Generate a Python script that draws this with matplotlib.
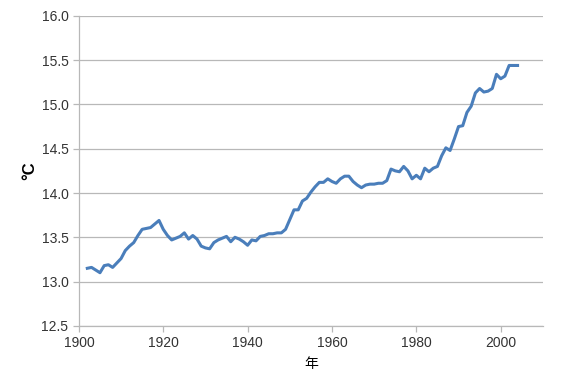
import numpy as np
import matplotlib
matplotlib.use("Agg")
import matplotlib.pyplot as plt

plt.rcParams['font.family'] = ['Liberation Sans', 'Noto Sans CJK JP', 'DejaVu Sans']

# Data: annual mean temperature (deg C).
years = list(range(1902, 2005))
temps = [
    13.15, 13.16, 13.13, 13.10, 13.18, 13.19, 13.16, 13.21, 13.26, 13.35,  # 1902-1911
    13.40, 13.44, 13.52, 13.59, 13.60, 13.61, 13.65, 13.69, 13.59, 13.52,  # 1912-1921
    13.47, 13.49, 13.51, 13.55, 13.48, 13.52, 13.48, 13.40, 13.38, 13.37,  # 1922-1931
    13.44, 13.47, 13.49, 13.51, 13.45, 13.50, 13.48, 13.45, 13.41, 13.47,  # 1932-1941
    13.46, 13.51, 13.52, 13.54, 13.54, 13.55, 13.55, 13.59, 13.70, 13.81,  # 1942-1951
    13.81, 13.91, 13.94, 14.01, 14.07, 14.12, 14.12, 14.16, 14.13, 14.11,  # 1952-1961
    14.16, 14.19, 14.19, 14.13, 14.09, 14.06, 14.09, 14.10, 14.10, 14.11,  # 1962-1971
    14.11, 14.14, 14.27, 14.25, 14.24, 14.30, 14.25, 14.16, 14.20, 14.16,  # 1972-1981
    14.28, 14.24, 14.28, 14.30, 14.42, 14.51, 14.48, 14.61, 14.75, 14.76,  # 1982-1991
    14.91, 14.98, 15.13, 15.18, 15.14, 15.15, 15.18, 15.34, 15.29, 15.32,  # 1992-2001
    15.44, 15.44, 15.44,                                                   # 2002-2004
]
xticks = [1900, 1920, 1940, 1960, 1980, 2000]
yticks = [12.5, 13.0, 13.5, 14.0, 14.5, 15.0, 15.5, 16.0]

fig = plt.figure(figsize=(5.8, 3.87), dpi=100)
ax = fig.add_axes([0.136, 0.158, 0.8, 0.801])

ax.plot(years, temps, color='#4a7ebb', linewidth=2.2, solid_joinstyle='round')

ax.set_xlim(1900, 2010)
ax.set_ylim(12.5, 16.0)
ax.set_xticks(xticks)
ax.set_yticks(yticks)
ax.set_yticklabels([f"{v:.1f}" for v in yticks])

# Excel-like style: horizontal grid, gray axes, no box.
ax.grid(axis='y', color='#b8b8b8', linewidth=0.9)
ax.set_axisbelow(True)
for side in ('top', 'right'):
    ax.spines[side].set_visible(False)
for side in ('left', 'bottom'):
    ax.spines[side].set_color('#b8b8b8')
    ax.spines[side].set_linewidth(0.9)
ax.tick_params(axis='both', colors='#b8b8b8', labelcolor='#333333', labelsize=10, length=4, width=0.9)

ax.set_xlabel('年', fontsize=10, labelpad=5)
ax.set_ylabel('°C', fontsize=12, fontweight='bold', labelpad=3)

plt.savefig('out.png', dpi=100)
plt.close()
